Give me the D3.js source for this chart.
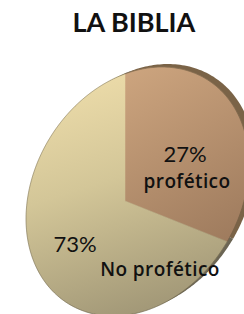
<!DOCTYPE html>
<html>
<head>
<meta charset="utf-8">
<script src="https://cdn.jsdelivr.net/npm/d3@7"></script>
<style>
  html, body { margin: 0; padding: 0; background: #fff; }
  svg { display: block; }
</style>
</head>
<body>
<svg id="chart" width="244" height="314"></svg>
<script>
// data
var categories = ["profético", "No profético"];
var values = [27, 73];
var pctLabels = ["27%", "73%"];
var title = "LA BIBLIA";

var svg = d3.select("#chart");

// tilted pie: outline ellipse + off-centre apex, slice edges cast from the apex
var C = [137.5, 191.5];
var M = [[110.7, -13], [-13, 123.8]];
var apex = [125, 201];
var ky = 1.25, shear = 0.24;
var det = M[0][0] * M[1][1] - M[0][1] * M[1][0];
function inv(v) {
  return [(M[1][1] * v[0] - M[0][1] * v[1]) / det, (-M[1][0] * v[0] + M[0][0] * v[1]) / det];
}
var q0 = inv([apex[0] - C[0], apex[1] - C[1]]);

function project(a, r) {
  var d = [Math.sin(a), -ky * Math.cos(a) + shear * Math.sin(a)];
  var q1 = inv(d);
  var b = q0[0] * q1[0] + q0[1] * q1[1];
  var aa = q1[0] * q1[0] + q1[1] * q1[1];
  var c = q0[0] * q0[0] + q0[1] * q0[1] - 1;
  var t = (-b + Math.sqrt(b * b - aa * c)) / aa;
  return [apex[0] + r * t * d[0], apex[1] + r * t * d[1]];
}

var pie = d3.pie().sort(null).value(function(d) { return d; });
var arcs = pie(values);

var line = d3.line().x(function(d) { return d[0]; }).y(function(d) { return d[1]; }).curve(d3.curveLinearClosed);

function slicePts(d) {
  var pts = [apex.slice()];
  var n = Math.max(8, Math.ceil((d.endAngle - d.startAngle) * 60));
  for (var i = 0; i <= n; i++) {
    pts.push(project(d.startAngle + (d.endAngle - d.startAngle) * i / n, 1));
  }
  return pts;
}

var defs = svg.append("defs");
var gb = defs.append("linearGradient").attr("id", "gBrown").attr("gradientUnits", "userSpaceOnUse")
  .attr("x1", 130).attr("y1", 70).attr("x2", 235).attr("y2", 250);
gb.append("stop").attr("offset", 0).attr("stop-color", "#cca47e");
gb.append("stop").attr("offset", 1).attr("stop-color", "#9c795c");
var gy = defs.append("linearGradient").attr("id", "gBeige").attr("gradientUnits", "userSpaceOnUse")
  .attr("x1", 70).attr("y1", 70).attr("x2", 150).attr("y2", 316);
gy.append("stop").attr("offset", 0).attr("stop-color", "#efdeab");
gy.append("stop").attr("offset", 0.45).attr("stop-color", "#d3c698");
gy.append("stop").attr("offset", 1).attr("stop-color", "#a09676");

var topFill = ["url(#gBrown)", "url(#gBeige)"];
var rimFill = ["#7a6347", "#6b6554"];

// side rim
svg.append("g").attr("transform", "translate(6,-3)")
  .selectAll("path").data(arcs).enter().append("path")
  .attr("d", function(d) { return line(slicePts(d)); })
  .attr("fill", function(d, i) { return rimFill[i]; });

// top face
svg.append("g")
  .selectAll("path").data(arcs).enter().append("path")
  .attr("d", function(d) { return line(slicePts(d)); })
  .attr("fill", function(d, i) { return topFill[i]; })
  .attr("stroke", function(d, i) { return topFill[i]; })
  .attr("stroke-width", 0.5);

// soft outline
var outline = d3.range(0, 360, 1).map(function(a) { return project(a * Math.PI / 180, 1); });
svg.append("path").attr("d", line(outline)).attr("fill", "none")
  .attr("stroke", "rgba(70,60,40,0.35)").attr("stroke-width", 1);

// title
svg.append("text").attr("x", 134).attr("y", 32).attr("text-anchor", "middle")
  .attr("font-family", "Lato, sans-serif").attr("font-weight", "bold").attr("font-size", 27)
  .attr("fill", "#111").text(title);

// labels
var labelPos = [{ pct: [185, 162], cat: [187, 188] }, { pct: [75, 252], cat: [160, 276] }];
var lab = svg.append("g").attr("fill", "#111").attr("text-anchor", "middle");
arcs.forEach(function(d, i) {
  lab.append("text").attr("x", labelPos[i].pct[0]).attr("y", labelPos[i].pct[1])
    .attr("font-family", "Lato, sans-serif").attr("font-size", 22).text(pctLabels[i]);
  lab.append("text").attr("x", labelPos[i].cat[0]).attr("y", labelPos[i].cat[1])
    .attr("font-family", "'Open Sans', sans-serif").attr("font-weight", 600)
    .attr("font-size", 19).attr("letter-spacing", 0.4).text(categories[i]);
});
</script>
</body>
</html>
